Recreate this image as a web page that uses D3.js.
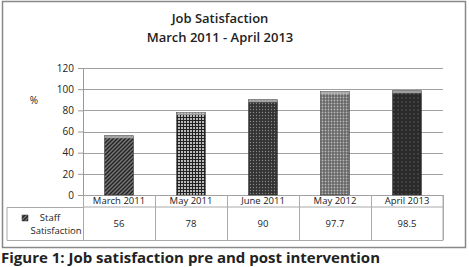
<!DOCTYPE html>
<html>
<head>
<meta charset="UTF-8">
<style>
body { margin:0; background:#fff; }
svg text { font-family: "Open Sans", sans-serif; fill:#222; }
.grid line { stroke:#a0a0a0; stroke-width:1; }
.cap { font-family: "Open Sans", sans-serif; font-weight:bold; }
</style>
</head>
<body>
<svg width="469" height="267"></svg>
<script src="https://cdn.jsdelivr.net/npm/d3@7"></script>
<script>
var categories = ["March 2011", "May 2011", "June 2011", "May 2012", "April 2013"];
var values = [56, 78, 90, 97.7, 98.5];
var valueLabels = ["56", "78", "90", "97.7", "98.5"];
var yTicks = [0, 20, 40, 60, 80, 100, 120];
var seriesName = ["Staff", "Satisfaction"];

var svg = d3.select("svg");

// outer frame
svg.append("rect").attr("x", 2.5).attr("y", 1.5).attr("width", 463).attr("height", 246)
  .attr("fill", "none").attr("stroke", "#888").attr("stroke-width", 1.5);

var defs = svg.append("defs");
// diagonal stripes
var p0 = defs.append("pattern").attr("id", "p0").attr("width", 4).attr("height", 4)
  .attr("patternUnits", "userSpaceOnUse");
p0.append("rect").attr("width", 4).attr("height", 4).attr("fill", "#777");
p0.append("path").attr("d", "M-1,1 l2,-2 M0,4 l4,-4 M3,5 l2,-2").attr("stroke", "#222").attr("stroke-width", 1.4);
// grid
var p1 = defs.append("pattern").attr("id", "p1").attr("width", 3).attr("height", 3)
  .attr("patternUnits", "userSpaceOnUse");
p1.append("rect").attr("width", 3).attr("height", 3).attr("fill", "#bbb");
p1.append("path").attr("d", "M0,0.5 h3 M0.5,0 v3").attr("stroke", "#222").attr("stroke-width", 1);
// dark dots
var p2 = defs.append("pattern").attr("id", "p2").attr("width", 3).attr("height", 3)
  .attr("patternUnits", "userSpaceOnUse");
p2.append("rect").attr("width", 3).attr("height", 3).attr("fill", "#333");
p2.append("circle").attr("cx", 1.5).attr("cy", 1.5).attr("r", 0.7).attr("fill", "#888");
// light dots
var p3 = defs.append("pattern").attr("id", "p3").attr("width", 3).attr("height", 3)
  .attr("patternUnits", "userSpaceOnUse");
p3.append("rect").attr("width", 3).attr("height", 3).attr("fill", "#666");
p3.append("circle").attr("cx", 1.5).attr("cy", 1.5).attr("r", 0.9).attr("fill", "#bbb");
// dark sparse dots
var p4 = defs.append("pattern").attr("id", "p4").attr("width", 4).attr("height", 4)
  .attr("patternUnits", "userSpaceOnUse");
p4.append("rect").attr("width", 4).attr("height", 4).attr("fill", "#2a2a2a");
p4.append("circle").attr("cx", 2).attr("cy", 2).attr("r", 0.7).attr("fill", "#666");
var fills = ["url(#p0)", "url(#p1)", "url(#p2)", "url(#p3)", "url(#p4)"];

// title
svg.append("text").attr("x", 220).attr("y", 23).attr("text-anchor", "middle")
  .attr("font-size", 13).attr("font-weight", 600).text("Job Satisfaction");
svg.append("text").attr("x", 220).attr("y", 42).attr("text-anchor", "middle")
  .attr("font-size", 13).attr("font-weight", 600).text("March 2011 - April 2013");

var pLeft = 83, pRight = 443, pTop = 68, pBottom = 195;
var x = d3.scaleBand().domain(categories).range([pLeft, pRight]).paddingInner(0.6).paddingOuter(0.3);
var xc = d3.scaleBand().domain(categories).range([pLeft, pRight]);
var y = d3.scaleLinear().domain([0, 120]).range([pBottom, pTop]);

// gridlines
svg.append("g").attr("class", "grid")
  .selectAll("line").data(yTicks).enter().append("line")
  .attr("x1", pLeft).attr("x2", pRight)
  .attr("y1", function(d) { return Math.round(y(d)) + 0.5; })
  .attr("y2", function(d) { return Math.round(y(d)) + 0.5; });

// y axis
var ya = svg.append("g").attr("transform", "translate(" + pLeft + ",0)")
  .call(d3.axisLeft(y).tickValues(yTicks).tickSize(5).tickPadding(4));
ya.select(".domain").attr("stroke", "#999");
ya.selectAll(".tick line").attr("stroke", "#999");
ya.selectAll("text").attr("font-size", 10).attr("fill", "#333")
  .style("font-family", "'Open Sans', sans-serif");

svg.append("text").attr("x", 34).attr("y", 104).attr("text-anchor", "middle")
  .attr("font-size", 10).text("%");

// bars
var bars = svg.append("g").selectAll("g").data(values).enter().append("g");
bars.append("rect")
  .attr("x", function(d, i) { return x(categories[i]); })
  .attr("y", function(d) { return y(d); })
  .attr("width", x.bandwidth())
  .attr("height", function(d) { return pBottom - y(d); })
  .attr("fill", function(d, i) { return fills[i]; })
  .attr("stroke", "#333").attr("stroke-width", 0.6);
bars.append("rect")
  .attr("x", function(d, i) { return x(categories[i]); })
  .attr("y", function(d) { return y(d); })
  .attr("width", x.bandwidth())
  .attr("height", 2.5)
  .attr("fill", "#bbb").attr("opacity", 0.8);

// data table
var tl = 7, r1 = 207, r2 = 240;
var tg = svg.append("g").attr("stroke", "#aaa").attr("stroke-width", 1).attr("fill", "none");
tg.append("path").attr("d", "M" + pLeft + "," + r1 + "H" + pRight);
tg.append("path").attr("d", "M" + tl + "," + (r1 + 0.5) + "V" + (r2 + 0.5) + "H" + pRight + "V" + pBottom);
tg.append("path").attr("d", "M" + tl + "," + (r1 + 0.5) + "H" + pLeft);
tg.selectAll("line").data(categories.concat(["end"])).enter().append("line")
  .attr("x1", function(d, i) { return pLeft + i * xc.bandwidth() + 0.5; })
  .attr("x2", function(d, i) { return pLeft + i * xc.bandwidth() + 0.5; })
  .attr("y1", pBottom).attr("y2", r2);

svg.append("g").selectAll("text").data(categories).enter().append("text")
  .attr("x", function(d) { return xc(d) + xc.bandwidth() / 2; })
  .attr("y", 204).attr("text-anchor", "middle").attr("font-size", 9.5).attr("fill", "#333")
  .text(function(d) { return d; });
svg.append("g").selectAll("text").data(valueLabels).enter().append("text")
  .attr("x", function(d, i) { return xc(categories[i]) + xc.bandwidth() / 2; })
  .attr("y", 227).attr("text-anchor", "middle").attr("font-size", 9.5).attr("fill", "#333")
  .text(function(d) { return d; });

svg.append("rect").attr("x", 22).attr("y", 215).attr("width", 6).attr("height", 6)
  .attr("fill", "url(#p0)").attr("stroke", "#333").attr("stroke-width", 0.5);
svg.append("text").attr("x", 50).attr("y", 221).attr("text-anchor", "middle")
  .attr("font-size", 9.5).attr("fill", "#333").text(seriesName[0]);
svg.append("text").attr("x", 56).attr("y", 234).attr("text-anchor", "middle")
  .attr("font-size", 9.5).attr("fill", "#333").text(seriesName[1]);

// caption
svg.append("text").attr("class", "cap").attr("x", 1).attr("y", 263)
  .attr("font-size", 15).attr("fill", "#111")
  .text("Figure 1: Job satisfaction pre and post intervention");
</script>
</body>
</html>
